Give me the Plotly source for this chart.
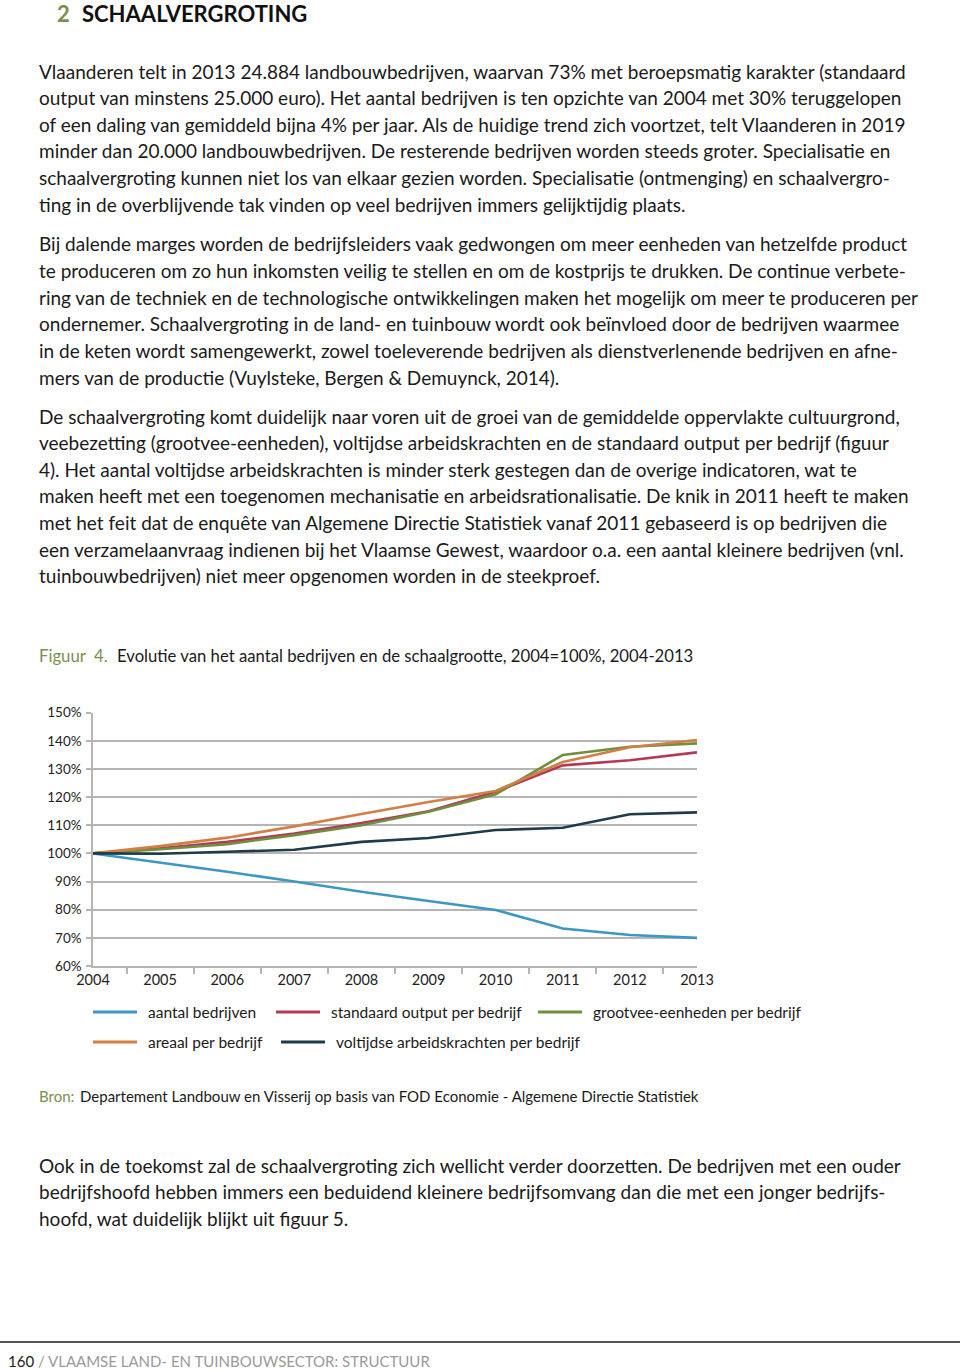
import plotly.graph_objects as go

W, H = 960, 1370
OX, OY = 0, 0  # body margin removed via post_script

# ---------------- data ----------------
years = ["2004", "2005", "2006", "2007", "2008", "2009", "2010", "2011", "2012", "2013"]
aantal_bedrijven = [100, 96.8, 93.5, 90.0, 86.4, 83.1, 79.9, 73.3, 71.0, 70.0]
standaard_output = [100, 101.8, 104.1, 107.1, 110.8, 115.0, 121.9, 131.3, 133.1, 135.9]
grootvee_eenheden = [100, 101.5, 103.3, 106.5, 110.0, 114.8, 121.0, 135.0, 137.9, 139.1]
areaal = [100, 102.6, 105.6, 109.6, 114.0, 118.3, 122.2, 132.5, 137.7, 140.3]
voltijdse_ak = [100, 99.9, 100.6, 101.3, 104.1, 105.5, 108.3, 109.1, 113.9, 114.6]

series_names = ["aantal bedrijven", "standaard output per bedrijf", "grootvee-eenheden per bedrijf",
                "areaal per bedrijf", "voltijdse arbeidskrachten per bedrijf"]
series_values = [aantal_bedrijven, standaard_output, grootvee_eenheden, areaal, voltijdse_ak]
series_colors = ["#3b97c4", "#b23a57", "#6f8f3c", "#d27f45", "#1d3b4a"]
y_ticks = [60, 70, 80, 90, 100, 110, 120, 130, 140, 150]

# ---------------- texts ----------------
para1 = [
    "Vlaanderen telt in 2013 24.884 landbouwbedrijven, waarvan 73% met beroepsmatig karakter (standaard",
    "output van minstens 25.000 euro). Het aantal bedrijven is ten opzichte van 2004 met 30% teruggelopen",
    "of een daling van gemiddeld bijna 4% per jaar. Als de huidige trend zich voortzet, telt Vlaanderen in 2019",
    "minder dan 20.000 landbouwbedrijven. De resterende bedrijven worden steeds groter. Specialisatie en",
    "schaalvergroting kunnen niet los van elkaar gezien worden. Specialisatie (ontmenging) en schaalvergro-",
    "ting in de overblijvende tak vinden op veel bedrijven immers gelijktijdig plaats.",
]
para2 = [
    "Bij dalende marges worden de bedrijfsleiders vaak gedwongen om meer eenheden van hetzelfde product",
    "te produceren om zo hun inkomsten veilig te stellen en om de kostprijs te drukken. De continue verbete-",
    "ring van de techniek en de technologische ontwikkelingen maken het mogelijk om meer te produceren per",
    "ondernemer. Schaalvergroting in de land- en tuinbouw wordt ook beïnvloed door de bedrijven waarmee",
    "in de keten wordt samengewerkt, zowel toeleverende bedrijven als dienstverlenende bedrijven en afne-",
    "mers van de productie (Vuylsteke, Bergen &amp; Demuynck, 2014).",
]
para3 = [
    "De schaalvergroting komt duidelijk naar voren uit de groei van de gemiddelde oppervlakte cultuurgrond,",
    "veebezetting (grootvee-eenheden), voltijdse arbeidskrachten en de standaard output per bedrijf (figuur",
    "4). Het aantal voltijdse arbeidskrachten is minder sterk gestegen dan de overige indicatoren, wat te",
    "maken heeft met een toegenomen mechanisatie en arbeidsrationalisatie. De knik in 2011 heeft te maken",
    "met het feit dat de enquête van Algemene Directie Statistiek vanaf 2011 gebaseerd is op bedrijven die",
    "een verzamelaanvraag indienen bij het Vlaamse Gewest, waardoor o.a. een aantal kleinere bedrijven (vnl.",
    "tuinbouwbedrijven) niet meer opgenomen worden in de steekproef.",
]
para4 = [
    "Ook in de toekomst zal de schaalvergroting zich wellicht verder doorzetten. De bedrijven met een ouder",
    "bedrijfshoofd hebben immers een beduidend kleinere bedrijfsomvang dan die met een jonger bedrijfs-",
    "hoofd, wat duidelijk blijkt uit figuur 5.",
]

BODY_FONT = "Lato"
TXT = "#1a1a1a"
GREEN = "#7b8f4f"
BODY_SIZE = 19


def px(x):
    return (x - OX) / W


def py(y):
    return 1 - (y - OY) / H


fig = go.Figure()
for name, vals, col in zip(series_names, series_values, series_colors):
    fig.add_trace(go.Scatter(x=years, y=vals, name=name, mode="lines",
                             line=dict(color=col, width=2.6), showlegend=False))

annotations = []


def text(x, y, s, size=BODY_SIZE, color=TXT, family=BODY_FONT, anchor="left"):
    annotations.append(dict(x=px(x), y=py(y), xref="paper", yref="paper", text=s,
                            showarrow=False, xanchor=anchor, yanchor="middle",
                            font=dict(size=size, color=color, family=family)))


# header
text(55, 13, "<b>2</b>", size=22, color=GREEN)
text(80, 13, "<b>SCHAALVERGROTING</b>", size=22, color="#111111")

LH = 26.6
for i, s in enumerate(para1):
    text(37, 71 + i * LH, s)
for i, s in enumerate(para2):
    text(37, 244 + i * LH, s)
for i, s in enumerate(para3):
    text(37, 416 + i * LH, s)
for i, s in enumerate(para4):
    text(37, 1165 + i * LH, s)

# caption
text(37, 656, "Figuur  4.", size=16.7, color=GREEN)
text(115, 656, "Evolutie van het aantal bedrijven en de schaalgrootte, 2004=100%, 2004-2013", size=16.7)

# legend (manual, two rows)
leg_pos = [(93, 1012), (276, 1012), (538, 1012), (93, 1042), (281, 1042)]
shapes = []
for (lx, ly), name, col in zip(leg_pos, series_names, series_colors):
    shapes.append(dict(type="line", xref="paper", yref="paper", x0=px(lx), x1=px(lx + 44),
                       y0=py(ly), y1=py(ly), line=dict(color=col, width=3)))
    text(lx + 53, ly, name, size=15.5)

# source
text(37, 1096, "Bron:", size=15, color=GREEN)
text(78, 1096, "Departement Landbouw en Visserij op basis van FOD Economie - Algemene Directie Statistiek", size=15)

# footer
shapes.append(dict(type="line", xref="paper", yref="paper", x0=px(0), x1=px(960), y0=py(1342), y1=py(1342),
                   line=dict(color="#555555", width=2)))
text(6, 1361, "<span style='color:#222'>160</span> / VLAAMSE LAND- EN TUINBOUWSECTOR: STRUCTUUR",
     size=15, color="#9a9a9a")

fig.update_layout(
    width=W, height=H,
    margin=dict(l=0, r=0, t=0, b=0, pad=0, autoexpand=False),
    paper_bgcolor="white", plot_bgcolor="white",
    annotations=annotations, shapes=shapes,
    showlegend=False,
    xaxis=dict(domain=[px(93), px(697)], type="category", tickson="boundaries",
               ticks="outside", ticklen=6, tickcolor="#b5b5b5", tickwidth=1.5,
               showline=True, linecolor="#b5b5b5", linewidth=1.5, showgrid=False,
               automargin=False,
               tickfont=dict(family=BODY_FONT, size=14.5, color="#222")),
    yaxis=dict(domain=[py(966), py(712.7)], range=[60, 150], tickvals=y_ticks,
               ticktext=[f"{v}%" for v in y_ticks],
               ticks="outside", ticklen=5, tickcolor="#b5b5b5", tickwidth=1.5,
               showline=True, linecolor="#b5b5b5", linewidth=1.5,
               showgrid=True, gridcolor="#b5b5b5", gridwidth=1.5, zeroline=False,
               automargin=False, ticklabelstandoff=2,
               tickfont=dict(family=BODY_FONT, size=13.5, color="#222")),
)

fig.write_html("out.html", config={"displayModeBar": False},
               post_script="document.body.style.margin='0px';")
